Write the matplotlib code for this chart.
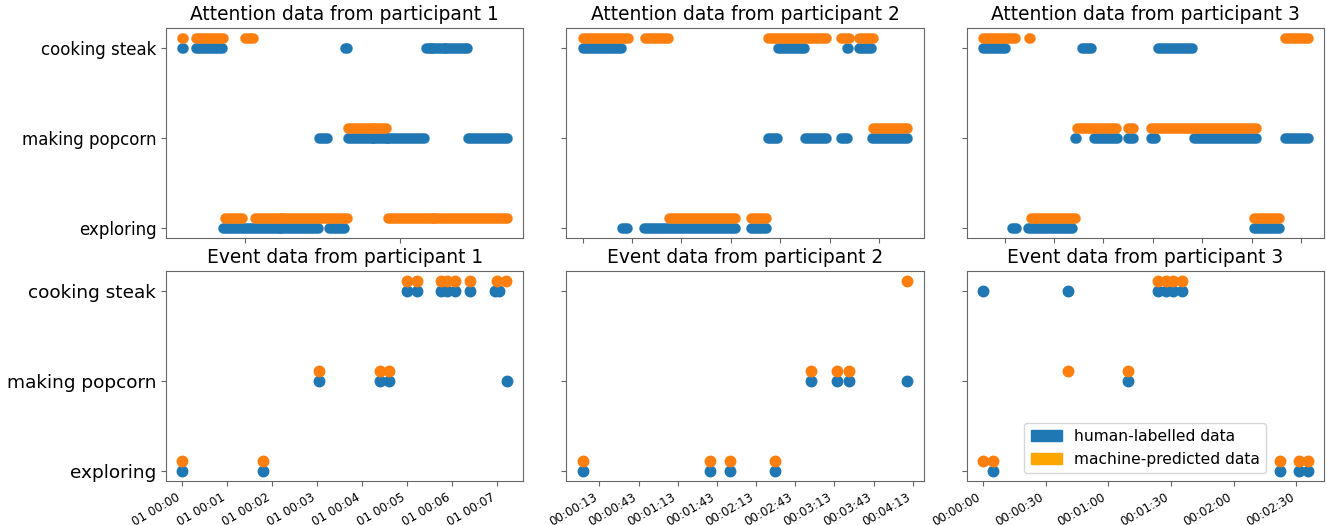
import numpy as np
import pandas as pd
import matplotlib
matplotlib.use("Agg")
import matplotlib.pyplot as plt
import matplotlib.dates as mdates
import matplotlib.patches as mpatches
from matplotlib.ticker import MultipleLocator

categories = ["exploring", "making popcorn", "cooking steak"]

# attention data: runs of samples as (start, end) in seconds, per category
p1_att_human = {
    "cooking steak": [(0, 1), (17.7, 53), (216, 219), (323.5, 331), (331, 349), (349, 378)],
    "making popcorn": [(182, 193), (220, 253), (253, 272), (272, 322), (380, 432)],
    "exploring": [(54, 130), (130, 180), (195.5, 215.5)],
}
p1_att_machine = {
    "cooking steak": [(0, 1), (17.7, 53.7), (83.5, 94)],
    "making popcorn": [(220, 253), (253, 271)],
    "exploring": [(57, 80), (97, 131), (131, 219), (273, 334), (334, 432)],
}
p2_att_human = {
    "cooking steak": [(0.5, 29.6), (150, 170), (203, 203.5), (212, 221)],
    "making popcorn": [(142.6, 149), (171, 187), (198, 202.6), (221.7, 249)],
    "exploring": [(30.4, 34.7), (47.7, 117), (129, 140.6)],
}
p2_att_machine = {
    "cooking steak": [(0.5, 35), (48, 66), (142.6, 186.7), (198, 204), (212, 222.5)],
    "making popcorn": [(223, 249)],
    "exploring": [(66.8, 117), (129, 140.6)],
}
p3_att_human = {
    "cooking steak": [(0, 10.4), (47.5, 51.8), (83.8, 100.1)],
    "making popcorn": [(44, 44.5), (53, 64), (69.4, 71.8), (80.6, 82.5), (101, 130.8), (144.7, 155.4)],
    "exploring": [(13.8, 15.7), (21.8, 42.5), (129.5, 141.5)],
}
p3_att_machine = {
    "cooking steak": [(0, 15.2), (22, 22.5), (144.7, 155.4)],
    "making popcorn": [(44.9, 63.5), (69.4, 71.8), (80.6, 130.8)],
    "exploring": [(22.9, 44), (129.5, 141.5)],
}

# event data: time in seconds and category
p1_ev_human_t = [0, 107, 182, 263, 275, 433, 299, 312.4, 344.4, 353.3, 363.5, 383, 417, 421.7]
p1_ev_human_c = ["exploring"] * 2 + ["making popcorn"] * 4 + ["cooking steak"] * 8
p1_ev_machine_t = [0, 107, 182, 263, 275, 299, 312.4, 344.4, 353.3, 363.5, 383, 419, 431]
p1_ev_machine_c = ["exploring"] * 2 + ["making popcorn"] * 3 + ["cooking steak"] * 8

p2_ev_human_t = [0, 97.4, 112.7, 147.7, 175.3, 195.4, 204, 249]
p2_ev_human_c = ["exploring"] * 4 + ["making popcorn"] * 4
p2_ev_machine_t = [0, 97.4, 112.7, 147.7, 175.3, 195.4, 204, 249]
p2_ev_machine_c = ["exploring"] * 4 + ["making popcorn"] * 3 + ["cooking steak"]

p3_ev_human_t = [0, 40.7, 83.8, 87.5, 91, 95.5, 69.5, 5, 142.3, 151, 155.4]
p3_ev_human_c = ["cooking steak"] * 6 + ["making popcorn"] + ["exploring"] * 4
p3_ev_machine_t = [83.8, 87.5, 91, 95.5, 40.7, 69.5, 0, 5, 142.3, 151, 155.4]
p3_ev_machine_c = ["cooking steak"] * 4 + ["making popcorn"] * 2 + ["exploring"] * 5

attention = [(p1_att_human, p1_att_machine), (p2_att_human, p2_att_machine), (p3_att_human, p3_att_machine)]
events = [
    (p1_ev_human_t, p1_ev_human_c, p1_ev_machine_t, p1_ev_machine_c),
    (p2_ev_human_t, p2_ev_human_c, p2_ev_machine_t, p2_ev_machine_c),
    (p3_ev_human_t, p3_ev_human_c, p3_ev_machine_t, p3_ev_machine_c),
]

blue = "#1f77b4"
orange = "#ff7f0e"
offset = 0.12
lw = 7.6
spine_col = "#666666"

fig, axes = plt.subplots(2, 3, figsize=(13.27, 5.25), dpi=100, sharey=True)
plt.subplots_adjust(left=0.1251, right=0.9977, top=0.9467, bottom=0.0838, wspace=0.12, hspace=0.157)

ypos = {c: i for i, c in enumerate(categories)}

# top row: attention
top_ticks = [(207, 83), (37.8, 0.5), (23.65, 10.4)]
for i, (hum, mac) in enumerate(attention):
    ax = axes[0, i]
    for cat, runs in hum.items():
        for s, e in runs:
            ax.plot([s, e], [ypos[cat]] * 2, color=blue, lw=lw, solid_capstyle="round")
    for cat, runs in mac.items():
        for s, e in runs:
            ax.plot([s, e], [ypos[cat] + offset] * 2, color=orange, lw=lw, solid_capstyle="round")
    ax.set_title("Attention data from participant %d" % (i + 1), fontsize=13.4)
    ax.xaxis.set_major_locator(MultipleLocator(top_ticks[i][0], offset=top_ticks[i][1]))
    ax.tick_params(axis="x", labelbottom=False)

# bottom row: events
fmts = ["%d %H:%M", "%H:%M:%S", "%H:%M:%S"]
locs = [mdates.MinuteLocator(), mdates.SecondLocator(bysecond=[13, 43]), mdates.SecondLocator(bysecond=[0, 30])]
for i, (ht, hc, mt, mc) in enumerate(events):
    ax = axes[1, i]
    ax.scatter(pd.to_datetime(ht, unit="s"), [ypos[c] for c in hc], s=57, color=blue)
    ax.scatter(pd.to_datetime(mt, unit="s"), [ypos[c] + offset for c in mc], s=57, color=orange)
    ax.set_title("Event data from participant %d" % (i + 1), fontsize=13.4)
    ax.xaxis.set_major_locator(locs[i])
    ax.xaxis.set_major_formatter(mdates.DateFormatter(fmts[i]))
    ax.tick_params(axis="x", labelsize=8.6, labelrotation=30)
    for lab in ax.get_xticklabels():
        lab.set_ha("right")

for ax in axes.flat:
    for sp in ax.spines.values():
        sp.set_color(spine_col)
    ax.tick_params(color=spine_col)

axes[0, 0].set_yticks(range(len(categories)))
axes[0, 0].set_yticklabels(categories)
for ax in axes[1]:
    ax.yaxis.set_tick_params(labelsize=13.3)
for ax in axes[0]:
    ax.yaxis.set_tick_params(labelsize=12)

handles = [mpatches.Patch(color=blue, label="human-labelled data"),
           mpatches.Patch(color="orange", label="machine-predicted data")]
axes[1, 2].legend(handles=handles, loc="lower center", fontsize=11.2)

plt.savefig("out.png", dpi=100)
